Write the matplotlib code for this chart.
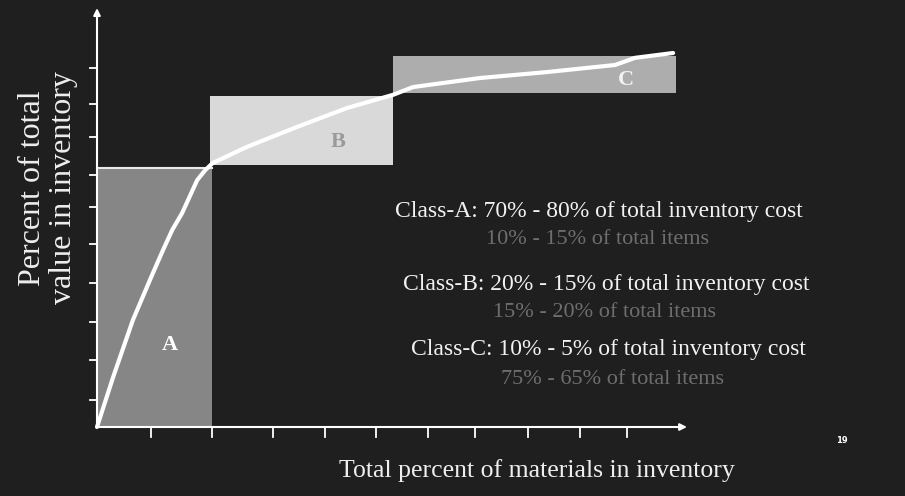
import numpy as np
import matplotlib
matplotlib.use("Agg")
import matplotlib.pyplot as plt
from matplotlib.patches import Rectangle

# Données (en %)
classes = ["A", "B", "C"]
box_x0 = [0.0, 19.5, 51.1]
box_x1 = [19.9, 51.1, 100.0]
box_y0 = [0.0, 70.1, 89.3]
box_y1 = [69.3, 88.5, 99.2]
box_colors = ["#868686", "#d9d9d9", "#adadad"]
letter_colors = ["#ffffff", "#9a9a9a", "#f2f2f2"]
letter_pos = [(12.6, 21.9), (41.6, 76.2), (91.4, 92.8)]

# courbe cumulée (pourcentage des articles, pourcentage de la valeur)
curve_x = [0.0, 2.8, 6.2, 9.5, 11.4, 13.0, 14.7, 17.3, 18.7, 20.0, 25.9, 34.5,
           43.2, 51.1, 54.6, 66.1, 77.7, 86.4, 89.5, 92.9, 99.5]
curve_y = [0.0, 13.4, 28.6, 40.6, 47.3, 52.7, 57.2, 66.0, 68.7, 70.6, 74.9, 80.2,
           85.3, 88.8, 90.9, 93.3, 94.9, 96.3, 96.8, 98.7, 100.0]

xticks = [9.3, 19.9, 30.4, 39.4, 48.2, 57.2, 65.3, 74.4, 83.4, 91.5]
yticks = [7.2, 17.9, 28.1, 38.5, 48.9, 58.8, 67.4, 77.5, 86.4, 96.0]

cost_lines = ["Class-A: 70% - 80% of total inventory cost",
              "Class-B: 20% - 15% of total inventory cost",
              "Class-C: 10% - 5% of total inventory cost"]
item_lines = ["10% - 15% of total items",
              "15% - 20% of total items",
              "75% - 65% of total items"]
cost_pos = [(86.7, 57.5), (87.9, 38.0), (88.4, 20.6)]
item_pos = [(86.4, 50.0), (87.7, 30.5), (89.1, 12.6)]

bg = "#1f1f1f"
serif = ["Liberation Serif", "DejaVu Serif"]

fig = plt.figure(figsize=(9.05, 4.96), dpi=100, facecolor=bg)
ax = fig.add_axes([0, 0, 1, 1])
ax.set_facecolor(bg)
# 1 px = 1/5.79 % en x, 1/3.74 % en y ; origine au pixel (97, 427)
ax.set_xlim(-97 / 5.79, (905 - 97) / 5.79)
ax.set_ylim((427 - 496) / 3.74, 427 / 3.74)
ax.axis("off")

#Boîtes des classes
for i in range(3):
    ax.add_patch(Rectangle((box_x0[i], box_y0[i]), box_x1[i] - box_x0[i],
                           box_y1[i] - box_y0[i], facecolor=box_colors[i],
                           edgecolor="none", zorder=1))
    ax.text(letter_pos[i][0], letter_pos[i][1], classes[i], color=letter_colors[i],
            fontsize=16, fontweight="bold", family=serif, ha="center", va="center",
            zorder=3)
ax.plot([box_x0[0], box_x1[0]], [box_y1[0], box_y1[0]], color="#e8e8e8", lw=1.5, zorder=2)

#Courbe
ax.plot(curve_x, curve_y, color="white", lw=3, solid_capstyle="round", zorder=4)

#Axes avec flèches
ax.annotate("", xy=(101.9, 0), xytext=(0, 0),
            arrowprops=dict(arrowstyle="-|>", color="white", lw=1.5,
                            mutation_scale=10, shrinkA=0, shrinkB=0), zorder=5)
ax.annotate("", xy=(0, 112), xytext=(0, 0),
            arrowprops=dict(arrowstyle="-|>", color="white", lw=1.5,
                            mutation_scale=10, shrinkA=0, shrinkB=0), zorder=5)
for t in xticks:
    ax.plot([t, t], [0, -2.7], color="white", lw=1.3, zorder=5)
for t in yticks:
    ax.plot([0, -1.2], [t, t], color="white", lw=1.3, zorder=5)

#Textes
for (x, y), s in zip(cost_pos, cost_lines):
    ax.text(x, y, s, color="#f2f2f2", fontsize=17, family=serif, ha="center", va="center")
for (x, y), s in zip(item_pos, item_lines):
    ax.text(x, y, s, color="#6e6e6e", fontsize=16, family=serif, ha="center", va="center")

ax.text(76.0, -11.5, "Total percent of materials in inventory", color="#eeeeee",
        fontsize=18.5, family=serif, ha="center", va="center")
ax.text(-8.4, 63.9, "Percent of total\nvalue in inventory", color="#eeeeee",
        fontsize=23, family=serif, ha="center", va="center", rotation=90,
        linespacing=1.1, multialignment="center")
ax.text(128.7, -3.5, "19", color="white", fontsize=6, fontweight="bold",
        ha="center", va="center")

fig.savefig("out.png", dpi=100, facecolor=bg)
